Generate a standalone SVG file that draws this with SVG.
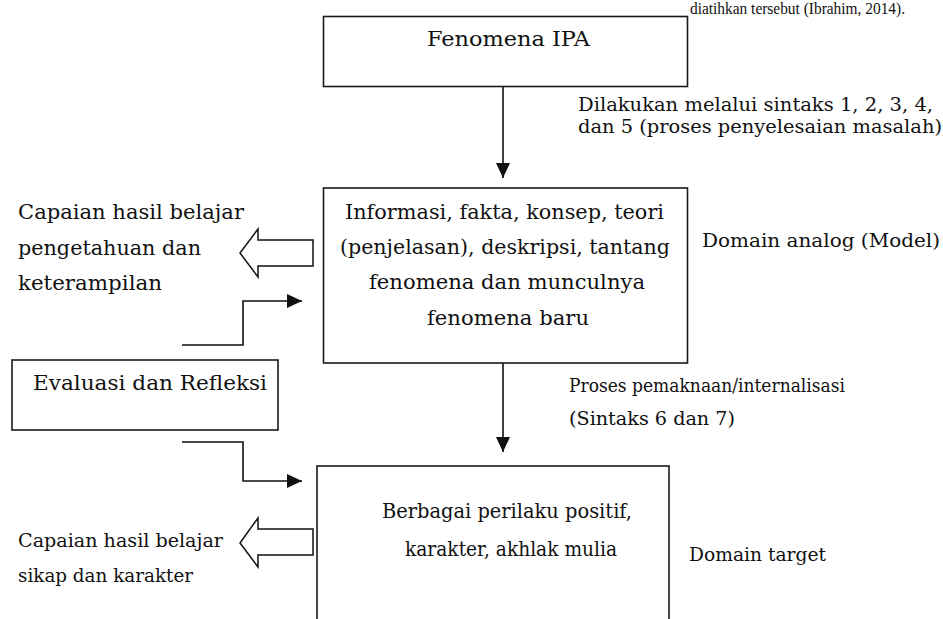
<svg xmlns="http://www.w3.org/2000/svg" width="943" height="619" viewBox="0 0 943 619">
<style>
.box{fill:#fff;stroke:#1a1a1a;stroke-width:1.6}
.t{font-family:"DejaVu Serif","Liberation Serif",serif;font-size:21px;fill:#111}
.m{font-size:19px}
.s{font-family:"Liberation Serif","DejaVu Serif",serif;font-size:16px;fill:#111}
.ln{fill:none;stroke:#111;stroke-width:1.6}
.blk{fill:#fff;stroke:#111;stroke-width:1.5;stroke-linejoin:miter}
</style>
<defs>
<marker id="ah" markerUnits="userSpaceOnUse" markerWidth="16" markerHeight="14" refX="15" refY="7" orient="auto">
<path d="M0,0 L15,7 L0,14 Z" fill="#111"/>
</marker>
</defs>
<rect width="943" height="619" fill="#fff"/>
<text class="s" x="690" y="14" textLength="215" lengthAdjust="spacingAndGlyphs">diatihkan tersebut (Ibrahim, 2014).</text>

<g id="connectors">
<line class="ln" x1="503" y1="73" x2="503" y2="178" marker-end="url(#ah)"/>
<line class="ln" x1="503" y1="355" x2="503" y2="452" marker-end="url(#ah)"/>
<polyline class="ln" points="182,345 243,345 243,301 302,301" marker-end="url(#ah)"/>
<polyline class="ln" points="182,442 243,442 243,481 302,481" marker-end="url(#ah)"/>
<polygon class="blk" points="313,240 258,240 258,229 240,253 258,277 258,266 313,266"/>
<polygon class="blk" points="313,529 258,529 258,518 240,543 258,567 258,555 313,555"/>
</g>

<g id="fenomena">
<rect class="box" x="323.5" y="16.5" width="364" height="70"/>
<text class="t" x="427" y="46" textLength="163" lengthAdjust="spacingAndGlyphs">Fenomena IPA</text>
</g>

<g id="label-sintaks">
<text class="t m" x="578" y="111" textLength="355" lengthAdjust="spacingAndGlyphs">Dilakukan  melalui  sintaks 1, 2, 3, 4,</text>
<text class="t m" x="578" y="133" textLength="364" lengthAdjust="spacingAndGlyphs">dan 5 (proses penyelesaian masalah)</text>
</g>

<g id="capaian-pengetahuan">
<text class="t" x="18" y="219" textLength="226" lengthAdjust="spacingAndGlyphs">Capaian hasil belajar</text>
<text class="t" x="18" y="255" textLength="183" lengthAdjust="spacingAndGlyphs">pengetahuan dan</text>
<text class="t" x="18" y="290" textLength="144" lengthAdjust="spacingAndGlyphs">keterampilan</text>
</g>

<g id="informasi">
<rect class="box" x="323.5" y="188" width="364" height="175"/>
<text class="t" x="345" y="219" textLength="319" lengthAdjust="spacingAndGlyphs">Informasi, fakta, konsep, teori</text>
<text class="t" x="340" y="254" textLength="330" lengthAdjust="spacingAndGlyphs">(penjelasan), deskripsi, tantang</text>
<text class="t" x="369" y="289" textLength="276" lengthAdjust="spacingAndGlyphs">fenomena dan munculnya</text>
<text class="t" x="427" y="325" textLength="162" lengthAdjust="spacingAndGlyphs">fenomena baru</text>
</g>

<g id="label-analog">
<text class="t m" x="702" y="247" textLength="238" lengthAdjust="spacingAndGlyphs">Domain analog (Model)</text>
</g>

<g id="evaluasi">
<rect class="box" x="12" y="360" width="266" height="70"/>
<text class="t" x="33" y="390" textLength="234" lengthAdjust="spacingAndGlyphs">Evaluasi dan Refleksi</text>
</g>

<g id="label-proses">
<text class="t m" x="569" y="392" textLength="276" lengthAdjust="spacingAndGlyphs">Proses pemaknaan/internalisasi</text>
<text class="t m" x="569" y="425" textLength="166" lengthAdjust="spacingAndGlyphs">(Sintaks 6 dan 7)</text>
</g>

<g id="perilaku">
<rect class="box" x="317" y="466" width="352" height="170"/>
<text class="t" x="382" y="518" textLength="250" lengthAdjust="spacingAndGlyphs">Berbagai perilaku positif,</text>
<text class="t" x="405" y="556" textLength="212" lengthAdjust="spacingAndGlyphs">karakter, akhlak mulia</text>
</g>

<g id="label-target">
<text class="t m" x="689" y="561" textLength="137" lengthAdjust="spacingAndGlyphs">Domain target</text>
</g>

<g id="capaian-sikap">
<text class="t m" x="18" y="547" textLength="205" lengthAdjust="spacingAndGlyphs">Capaian hasil belajar</text>
<text class="t m" x="18" y="582" textLength="175" lengthAdjust="spacingAndGlyphs">sikap dan karakter</text>
</g>
</svg>
